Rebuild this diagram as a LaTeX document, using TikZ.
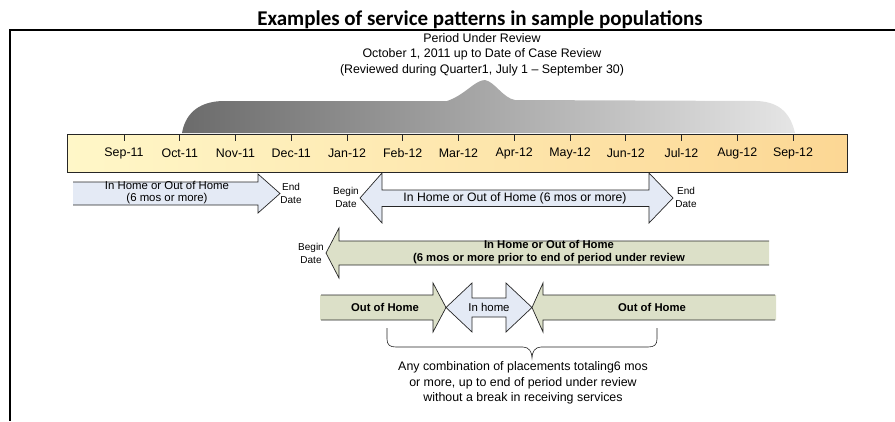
\documentclass[tikz,border=0pt]{standalone}
\usepackage{fontspec}
\setmainfont{Liberation Sans}
\newfontfamily\titlefont{Carlito}
\definecolor{barL}{HTML}{FFF7C8}
\definecolor{barR}{HTML}{FCD794}
\definecolor{blueA}{HTML}{E4EAF5}
\definecolor{greenA}{HTML}{DCE0C8}
\begin{document}
\begin{tikzpicture}[x=1pt,y=-1pt,
  outline/.style={draw=black!85, line width=0.7pt, line join=miter},
  bluefill/.style={fill=blueA},
  greenfill/.style={fill=greenA},
  month/.style={font=\fontsize{12.4}{14}\selectfont, inner sep=0},
  small/.style={font=\fontsize{10}{13}\selectfont, align=center, inner sep=0},
  inarrow/.style={font=\fontsize{11.4}{12}\selectfont, align=center, inner sep=0},
  inbold/.style={font=\bfseries\fontsize{11.3}{13}\selectfont, align=center, inner sep=0},
  note/.style={font=\fontsize{12.4}{15.5}\selectfont, align=center, inner sep=0}]
\useasboundingbox (0,0) rectangle (895,421);

% heading and frame
\node[font=\titlefont\bfseries\fontsize{21}{24}\selectfont, inner sep=0, anchor=base] (title) at (480,25)
  {Examples of service patterns in sample populations};
\draw[line width=2pt] (895,30) -- (10,30) -- (10,421);

\node[note] (period) at (482,54.5) {Period Under Review\\
  October 1, 2011 up to Date of Case Review\\
  (Reviewed during Quarter1, July 1 -- September 30)};

% timeline bar
\shade[left color=barL, right color=barR] (67.5,134.5) rectangle (847,172);
\draw[outline] (67.5,134.5) rectangle (847,172);

% period under review haze
\shade[left color=black!58, right color=black!10]
  (182,133) .. controls (185,116) and (196,102) .. (222,101)
  -- (447,101) .. controls (465,95) and (475,80) .. (485,80)
  .. controls (495,82) and (503,98) .. (515,100)
  -- (757,101) .. controls (782,102) and (791,116) .. (795,133) -- cycle;

\foreach \m [count=\i] in {Sep-11,Oct-11,Nov-11,Dec-11,Jan-12,Feb-12,Mar-12,Apr-12,May-12,Jun-12,Jul-12,Aug-12,Sep-12}{
  \pgfmathsetmacro{\xx}{124+55.75*(\i-1)}
  \draw[outline] (\xx,134.5) -- (\xx,140.5);
  \node[month] (m\i) at (\xx,153) {\m};
}

% arrow 1
\fill[bluefill] (73,182) -- (258,182) -- (258,174) -- (280,193.5) -- (258,213) -- (258,205) -- (73,205) -- cycle;
\draw[outline] (73,182) -- (258,182) -- (258,174) -- (280,193.5) -- (258,213) -- (258,205) -- (73,205);
\node[inarrow] (a1) at (167,193) {In Home or Out of Home\\(6 mos or more)};
\node[small] (end1) at (291,193) {End\\Date};

% arrow 2
\filldraw[bluefill, outline] (360,198) -- (382,173) -- (382,190) -- (649,190) -- (649,173) -- (673,198)
  -- (649,223) -- (649,206.5) -- (382,206.5) -- (382,223) -- cycle;
\node[inarrow, font=\fontsize{12.2}{14}\selectfont] (a2) at (515,198.5) {In Home or Out of Home (6 mos or more)};
\node[small] (begin2) at (346,197.5) {Begin\\Date};
\node[small] (end2) at (686,197.5) {End\\Date};

% arrow 3
\fill[greenfill] (326,253) -- (339,228) -- (339,241) -- (769,241) -- (769,265) -- (339,265) -- (339,278) -- cycle;
\draw[outline] (769,241) -- (339,241) -- (339,228) -- (326,253) -- (339,278) -- (339,265) -- (769,265);
\node[inbold] (a3) at (549,252.5) {In Home or Out of Home\\(6 mos or more prior to end of period under review};
\node[small] (begin3) at (311,253) {Begin\\Date};

% combined placements
\fill[greenfill] (320,295) -- (433,295) -- (433,283) -- (446,307.5) -- (433,332) -- (433,320) -- (320,320) -- cycle;
\draw[outline] (321,295) -- (433,295) -- (433,283) -- (446,307.5) -- (433,332) -- (433,320) -- (321,320);
\node[inbold] (out1) at (385,307.5) {Out of Home};

\filldraw[bluefill, outline] (446,307.5) -- (472,283) -- (472,298) -- (506,298) -- (506,283) -- (532,307.5)
  -- (506,332) -- (506,317) -- (472,317) -- (472,332) -- cycle;
\node[inarrow] (inh) at (489,307.5) {In home};

\fill[greenfill] (532,307.5) -- (543,283) -- (543,295) -- (776,295) -- (776,320) -- (543,320) -- (543,332) -- cycle;
\draw[outline] (775,295) -- (543,295) -- (543,283) -- (532,307.5) -- (543,332) -- (543,320) -- (775,320);
\node[inbold] (out2) at (652,307.5) {Out of Home};

% brace
\draw[outline, line width=0.6pt] (387,328) -- (387,339) .. controls (387,345) and (390,347) .. (396,347)
  -- (523,347) .. controls (529,347) and (532,352) .. (532,358)
  .. controls (532,352) and (535,347) .. (541,347)
  -- (648,347) .. controls (654,347) and (657,345) .. (657,339) -- (657,328);
\node[note] (combo) at (523,383)
  {Any combination of placements totaling6 mos\\
   or more, up to end of period under review\\
   without a break in receiving services};
\end{tikzpicture}
\end{document}
